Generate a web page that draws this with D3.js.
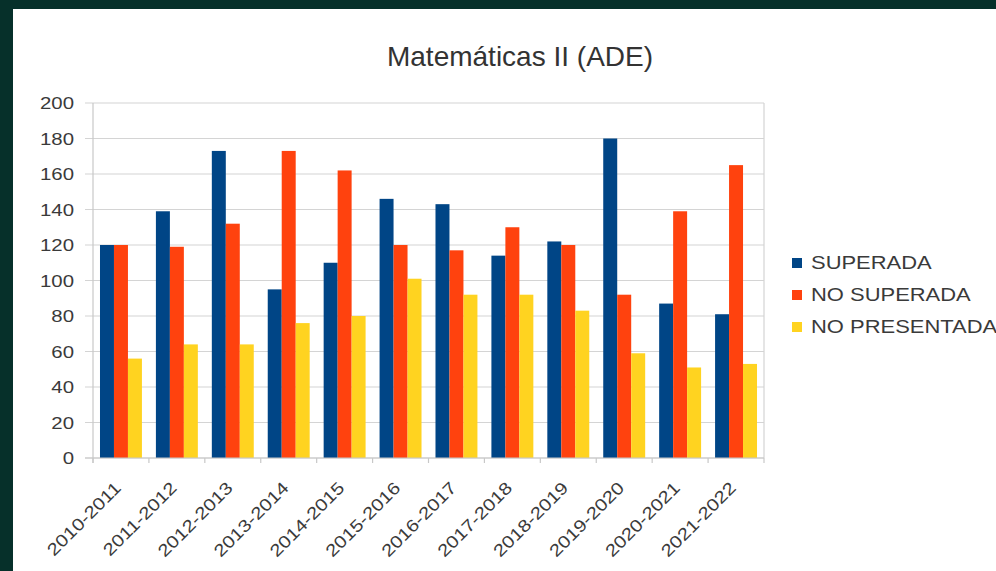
<!DOCTYPE html>
<html>
<head>
<meta charset="utf-8">
<script src="https://cdn.jsdelivr.net/npm/d3@7"></script>
<style>
  html, body { margin: 0; padding: 0; background: #06302a; }
  svg { display: block; }
  text { font-family: "Liberation Sans", Arial, sans-serif; }
</style>
</head>
<body>
<svg id="chart" width="996" height="571"></svg>
<script>
const title = "Matemáticas II (ADE)";
const categories = ["2010-2011","2011-2012","2012-2013","2013-2014","2014-2015","2015-2016","2016-2017","2017-2018","2018-2019","2019-2020","2020-2021","2021-2022"];
const seriesNames = ["SUPERADA","NO SUPERADA","NO PRESENTADA"];
const superada     = [120,139,173, 95,110,146,143,114,122,180, 87, 81];
const noSuperada   = [120,119,132,173,162,120,117,130,120, 92,139,165];
const noPresentada = [ 56, 64, 64, 76, 80,101, 92, 92, 83, 59, 51, 53];
const yTicks = [0,20,40,60,80,100,120,140,160,180,200];
const colors = ["#004586","#ff420e","#ffd320"];

const seriesValues = [superada, noSuperada, noPresentada];
const svg = d3.select("#chart");

// frame
svg.append("rect").attr("x",0).attr("y",0).attr("width",996).attr("height",571).attr("fill","#06302a");
svg.append("rect").attr("x",13).attr("y",9).attr("width",983).attr("height",562).attr("fill","#ffffff");

const plot = {left: 93, right: 764, top: 103, bottom: 458};

const x = d3.scaleBand().domain(categories).range([plot.left, plot.right]).paddingInner(0.25).paddingOuter(0.125);
const xs = d3.scaleBand().domain(seriesNames).range([0, x.bandwidth()]);
const y = d3.scaleLinear().domain([0, 200]).range([plot.bottom, plot.top]);

// title
svg.append("text").attr("x", 520).attr("y", 66).attr("text-anchor","middle")
  .attr("font-size", 28).attr("fill","#333").text(title);

// gridlines + outer ticks
const g = svg.append("g");
g.selectAll("line.grid").data(yTicks).join("line").attr("class","grid")
  .attr("x1", plot.left - 8).attr("x2", plot.right)
  .attr("y1", d => y(d)).attr("y2", d => y(d))
  .attr("stroke", "#d4d4d4").attr("stroke-width", 1.2);
// right & left wall lines
g.append("line").attr("x1", plot.right).attr("x2", plot.right).attr("y1", plot.top).attr("y2", plot.bottom).attr("stroke","#d4d4d4").attr("stroke-width",1.2);
g.append("line").attr("x1", plot.left).attr("x2", plot.left).attr("y1", plot.top).attr("y2", plot.bottom + 5).attr("stroke","#c8c8c8").attr("stroke-width",1.2);

// x tick marks at category boundaries
const bounds = d3.range(categories.length + 1).map(i => plot.left + i * x.step());
g.selectAll("line.xt").data(bounds).join("line").attr("class","xt")
  .attr("x1", d => d).attr("x2", d => d).attr("y1", plot.bottom).attr("y2", plot.bottom + 5)
  .attr("stroke", "#c8c8c8").attr("stroke-width", 1.2);

// y labels
svg.selectAll("text.yl").data(yTicks).join("text").attr("class","yl")
  .attr("transform", d => `translate(74,${y(d)}) scale(1.2,1)`)
  .attr("dy","0.36em").attr("text-anchor","end").attr("font-size",17).attr("fill","#3a3a3a")
  .text(d => d);

// bars
const groups = svg.append("g").selectAll("g").data(categories).join("g")
  .attr("transform", d => `translate(${x(d)},0)`);
groups.selectAll("rect").data((d,i) => seriesNames.map((s,k) => ({s, v: seriesValues[k][i], k})))
  .join("rect")
  .attr("x", d => xs(d.s)).attr("width", xs.bandwidth())
  .attr("y", d => y(d.v)).attr("height", d => y(0) - y(d.v))
  .attr("fill", d => colors[d.k]);

// x axis baseline
svg.append("line").attr("x1", plot.left - 8).attr("x2", plot.right).attr("y1", plot.bottom).attr("y2", plot.bottom)
  .attr("stroke","#c8c8c8").attr("stroke-width",1.2);

// x labels
svg.selectAll("text.xl").data(categories).join("text").attr("class","xl")
  .attr("transform", d => `translate(${x(d) + x.bandwidth()/2 + 1},${plot.bottom + 31}) rotate(-45) scale(1.2,1)`)
  .attr("text-anchor","end").attr("font-size",17).attr("fill","#3a3a3a")
  .text(d => d);

// legend
const leg = svg.append("g").selectAll("g").data(seriesNames).join("g")
  .attr("transform", (d,i) => `translate(792,${263 + i*32})`);
leg.append("rect").attr("x",0).attr("y",-5).attr("width",10).attr("height",10).attr("fill",(d,i) => colors[i]);
leg.append("text").attr("transform","translate(19,0) scale(1.22,1)").attr("dy","0.36em")
  .attr("font-size",18).attr("fill","#3a3a3a").text(d => d);
</script>
</body>
</html>
